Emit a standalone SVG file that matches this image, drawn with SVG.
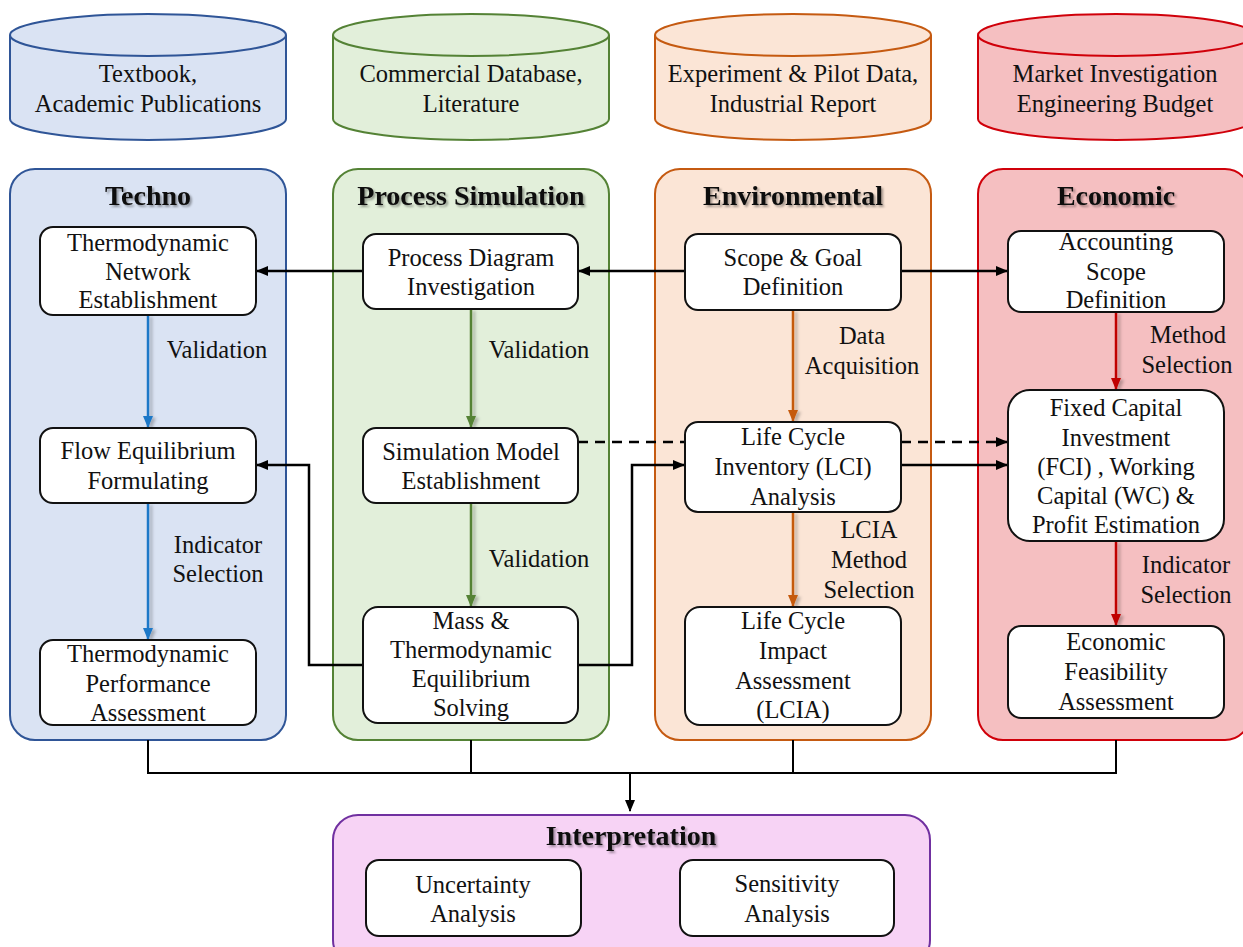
<svg xmlns="http://www.w3.org/2000/svg" width="1243" height="947" viewBox="0 0 1243 947">
  <defs>
    <style>
      text { font-family: "Liberation Serif", "Times New Roman", serif; fill: #111; text-anchor: middle; }
      .t { font-size: 24.5px; }
      .h { font-size: 28px; font-weight: bold; filter: url(#txtShadow); }
      .node { fill: #ffffff; stroke: #111; stroke-width: 2; }
      .blue { fill: #DAE3F3; stroke: #2F5597; stroke-width: 2; }
      .green { fill: #E2EFDA; stroke: #548235; stroke-width: 2; }
      .orange { fill: #FBE5D6; stroke: #C55A11; stroke-width: 2; }
      .red { fill: #F5BFC1; stroke: #D0000A; stroke-width: 2; }
      .purple { fill: #F7D3F5; stroke: #7030A0; stroke-width: 2; }
      .blk { fill: none; stroke: #000; stroke-width: 2.5; }
      .bus { fill: none; stroke: #000; stroke-width: 2; }
      .dash { fill: none; stroke: #000; stroke-width: 2.5; stroke-dasharray: 10 7; }
      .aBlue { stroke: #1F78C8; stroke-width: 2.5; fill: none; }
      .aGreen { stroke: #548235; stroke-width: 2.5; fill: none; }
      .aOrange { stroke: #C55A11; stroke-width: 2.5; fill: none; }
      .aRed { stroke: #C00000; stroke-width: 2.5; fill: none; }
    </style>
    <filter id="txtShadow" x="-10%" y="-30%" width="130%" height="160%">
      <feDropShadow dx="2" dy="2" stdDeviation="1.2" flood-color="#000" flood-opacity="0.35"/>
    </filter>
    <filter id="lineShadow" x="-200%" y="-10%" width="500%" height="130%">
      <feDropShadow dx="3" dy="2" stdDeviation="1.5" flood-color="#000" flood-opacity="0.25"/>
    </filter>
    <marker id="arrBlack" markerUnits="userSpaceOnUse" markerWidth="12" markerHeight="10" refX="11" refY="5" orient="auto">
      <path d="M0,0 L12,5 L0,10 Z" fill="#000"/>
    </marker>
    <marker id="arrBlue" markerUnits="userSpaceOnUse" markerWidth="12" markerHeight="10" refX="11" refY="5" orient="auto">
      <path d="M0,0 L12,5 L0,10 Z" fill="#1F78C8"/>
    </marker>
    <marker id="arrGreen" markerUnits="userSpaceOnUse" markerWidth="12" markerHeight="10" refX="11" refY="5" orient="auto">
      <path d="M0,0 L12,5 L0,10 Z" fill="#548235"/>
    </marker>
    <marker id="arrOrange" markerUnits="userSpaceOnUse" markerWidth="12" markerHeight="10" refX="11" refY="5" orient="auto">
      <path d="M0,0 L12,5 L0,10 Z" fill="#C55A11"/>
    </marker>
    <marker id="arrRed" markerUnits="userSpaceOnUse" markerWidth="12" markerHeight="10" refX="11" refY="5" orient="auto">
      <path d="M0,0 L12,5 L0,10 Z" fill="#C00000"/>
    </marker>
  </defs>

  <rect width="1243" height="947" fill="#ffffff"/>

  <!-- Data source cylinders -->
  <g id="src-techno">
    <path class="blue" d="M10,35 L10,119 A138,21 0 0 0 286,119 L286,35"/>
    <ellipse class="blue" cx="148" cy="35" rx="138" ry="21"/>
    <text class="t" x="148" y="82">Textbook,</text>
    <text class="t" x="148" y="112">Academic Publications</text>
  </g>
  <g id="src-simulation">
    <path class="green" d="M333,35 L333,119 A138,21 0 0 0 609,119 L609,35"/>
    <ellipse class="green" cx="471" cy="35" rx="138" ry="21"/>
    <text class="t" x="471" y="82">Commercial Database,</text>
    <text class="t" x="471" y="112">Literature</text>
  </g>
  <g id="src-environmental">
    <path class="orange" d="M655,35 L655,119 A138,21 0 0 0 931,119 L931,35"/>
    <ellipse class="orange" cx="793" cy="35" rx="138" ry="21"/>
    <text class="t" x="793" y="82">Experiment &amp; Pilot Data,</text>
    <text class="t" x="793" y="112">Industrial Report</text>
  </g>
  <g id="src-economic">
    <path class="red" d="M978,35 L978,119 A138,21 0 0 0 1254,119 L1254,35"/>
    <ellipse class="red" cx="1116" cy="35" rx="138" ry="21"/>
    <text class="t" x="1115" y="82">Market Investigation</text>
    <text class="t" x="1115" y="112">Engineering Budget</text>
  </g>

  <!-- Column panels -->
  <g id="panel-techno">
    <rect class="blue" x="10" y="169" width="276" height="571" rx="25"/>
    <text class="h" x="148" y="205">Techno</text>
  </g>
  <g id="panel-simulation">
    <rect class="green" x="333" y="169" width="276" height="571" rx="25"/>
    <text class="h" x="471" y="205">Process Simulation</text>
  </g>
  <g id="panel-environmental">
    <rect class="orange" x="655" y="169" width="276" height="571" rx="25"/>
    <text class="h" x="793" y="205">Environmental</text>
  </g>
  <g id="panel-economic">
    <rect class="red" x="978" y="169" width="272" height="571" rx="25"/>
    <text class="h" x="1116" y="205">Economic</text>
  </g>
  <g id="panel-interpretation">
    <rect class="purple" x="333" y="815" width="597" height="150" rx="25"/>
    <text class="h" x="631" y="845">Interpretation</text>
  </g>

  <!-- Connectors -->
  <g id="connectors">
    <!-- horizontal links from goal definition -->
    <line class="blk" x1="363" y1="271" x2="257" y2="271" marker-end="url(#arrBlack)"/>
    <line class="blk" x1="685" y1="271" x2="579" y2="271" marker-end="url(#arrBlack)"/>
    <line class="blk" x1="901" y1="271" x2="1007" y2="271" marker-end="url(#arrBlack)"/>
    <!-- dashed data links -->
    <line class="dash" x1="578" y1="442" x2="685" y2="442"/>
    <line class="dash" x1="901" y1="442" x2="1007" y2="442" marker-end="url(#arrBlack)"/>
    <!-- solving results feed -->
    <polyline class="blk" points="363,665 309,665 309,465 257,465" marker-end="url(#arrBlack)"/>
    <polyline class="blk" points="578,665 632,665 632,465 684,465" marker-end="url(#arrBlack)"/>
    <line class="blk" x1="901" y1="465" x2="1007" y2="465" marker-end="url(#arrBlack)"/>
    <!-- in-column flows -->
    <g filter="url(#lineShadow)">
      <line class="aBlue" x1="148" y1="315" x2="148" y2="427" marker-end="url(#arrBlue)"/>
      <line class="aBlue" x1="148" y1="503" x2="148" y2="639" marker-end="url(#arrBlue)"/>
      <line class="aGreen" x1="471" y1="309" x2="471" y2="427" marker-end="url(#arrGreen)"/>
      <line class="aGreen" x1="471" y1="503" x2="471" y2="606" marker-end="url(#arrGreen)"/>
      <line class="aOrange" x1="793" y1="310" x2="793" y2="421" marker-end="url(#arrOrange)"/>
      <line class="aOrange" x1="793" y1="512" x2="793" y2="606" marker-end="url(#arrOrange)"/>
      <line class="aRed" x1="1116" y1="312" x2="1116" y2="389" marker-end="url(#arrRed)"/>
      <line class="aRed" x1="1116" y1="541" x2="1116" y2="625" marker-end="url(#arrRed)"/>
    </g>
    <!-- bus to interpretation -->
    <polyline class="bus" points="148,740 148,773 1116,773 1116,740"/>
    <line class="bus" x1="471" y1="740" x2="471" y2="773"/>
    <line class="bus" x1="793" y1="740" x2="793" y2="773"/>
    <line class="bus" x1="630" y1="773" x2="630" y2="811" marker-end="url(#arrBlack)"/>
    <!-- connector labels -->
    <text class="t" x="217" y="358">Validation</text>
    <text class="t" x="218" y="553">Indicator</text>
    <text class="t" x="218" y="582">Selection</text>
    <text class="t" x="539" y="358">Validation</text>
    <text class="t" x="539" y="567">Validation</text>
    <text class="t" x="862" y="344">Data</text>
    <text class="t" x="862" y="374">Acquisition</text>
    <text class="t" x="869" y="538">LCIA</text>
    <text class="t" x="869" y="568">Method</text>
    <text class="t" x="869" y="598">Selection</text>
    <text class="t" x="1188" y="343">Method</text>
    <text class="t" x="1187" y="373">Selection</text>
    <text class="t" x="1186" y="573">Indicator</text>
    <text class="t" x="1186" y="603">Selection</text>
  </g>

  <!-- Techno nodes -->
  <g id="n-thermo-network">
    <rect class="node" x="40" y="227" width="216" height="88" rx="13"/>
    <text class="t" x="148" y="251">Thermodynamic</text>
    <text class="t" x="148" y="280">Network</text>
    <text class="t" x="148" y="308">Establishment</text>
  </g>
  <g id="n-flow-eq">
    <rect class="node" x="40" y="428" width="216" height="75" rx="13"/>
    <text class="t" x="148" y="459">Flow Equilibrium</text>
    <text class="t" x="148" y="489">Formulating</text>
  </g>
  <g id="n-thermo-perf">
    <rect class="node" x="40" y="640" width="216" height="85" rx="13"/>
    <text class="t" x="148" y="662">Thermodynamic</text>
    <text class="t" x="148" y="692">Performance</text>
    <text class="t" x="148" y="721">Assessment</text>
  </g>

  <!-- Process simulation nodes -->
  <g id="n-process-diagram">
    <rect class="node" x="363" y="234" width="215" height="75" rx="13"/>
    <text class="t" x="471" y="266">Process Diagram</text>
    <text class="t" x="471" y="295">Investigation</text>
  </g>
  <g id="n-sim-model">
    <rect class="node" x="363" y="428" width="215" height="75" rx="13"/>
    <text class="t" x="471" y="460">Simulation Model</text>
    <text class="t" x="471" y="489">Establishment</text>
  </g>
  <g id="n-mass-solving">
    <rect class="node" x="363" y="607" width="215" height="116" rx="15"/>
    <text class="t" x="471" y="629">Mass &amp;</text>
    <text class="t" x="471" y="658">Thermodynamic</text>
    <text class="t" x="471" y="687">Equilibrium</text>
    <text class="t" x="471" y="716">Solving</text>
  </g>

  <!-- Environmental nodes -->
  <g id="n-scope-goal">
    <rect class="node" x="685" y="234" width="216" height="76" rx="13"/>
    <text class="t" x="793" y="266">Scope &amp; Goal</text>
    <text class="t" x="793" y="295">Definition</text>
  </g>
  <g id="n-lci">
    <rect class="node" x="685" y="422" width="216" height="90" rx="13"/>
    <text class="t" x="793" y="445">Life Cycle</text>
    <text class="t" x="793" y="475">Inventory (LCI)</text>
    <text class="t" x="793" y="505">Analysis</text>
  </g>
  <g id="n-lcia">
    <rect class="node" x="685" y="607" width="216" height="118" rx="15"/>
    <text class="t" x="793" y="629">Life Cycle</text>
    <text class="t" x="793" y="659">Impact</text>
    <text class="t" x="793" y="689">Assessment</text>
    <text class="t" x="793" y="718">(LCIA)</text>
  </g>

  <!-- Economic nodes -->
  <g id="n-accounting">
    <rect class="node" x="1008" y="231" width="216" height="81" rx="13"/>
    <text class="t" x="1116" y="250">Accounting</text>
    <text class="t" x="1116" y="280">Scope</text>
    <text class="t" x="1116" y="308">Definition</text>
  </g>
  <g id="n-fci">
    <rect class="node" x="1008" y="390" width="216" height="151" rx="22"/>
    <text class="t" x="1116" y="416">Fixed Capital</text>
    <text class="t" x="1116" y="446">Investment</text>
    <text class="t" x="1116" y="475">(FCI) , Working</text>
    <text class="t" x="1116" y="504">Capital (WC) &amp;</text>
    <text class="t" x="1116" y="533">Profit Estimation</text>
  </g>
  <g id="n-econ-feasibility">
    <rect class="node" x="1008" y="626" width="216" height="92" rx="13"/>
    <text class="t" x="1116" y="650">Economic</text>
    <text class="t" x="1116" y="680">Feasibility</text>
    <text class="t" x="1116" y="710">Assessment</text>
  </g>

  <!-- Interpretation nodes -->
  <g id="n-uncertainty">
    <rect class="node" x="366" y="860" width="215" height="76" rx="13"/>
    <text class="t" x="473" y="893">Uncertainty</text>
    <text class="t" x="473" y="922">Analysis</text>
  </g>
  <g id="n-sensitivity">
    <rect class="node" x="680" y="860" width="214" height="76" rx="13"/>
    <text class="t" x="787" y="892">Sensitivity</text>
    <text class="t" x="787" y="922">Analysis</text>
  </g>
</svg>
